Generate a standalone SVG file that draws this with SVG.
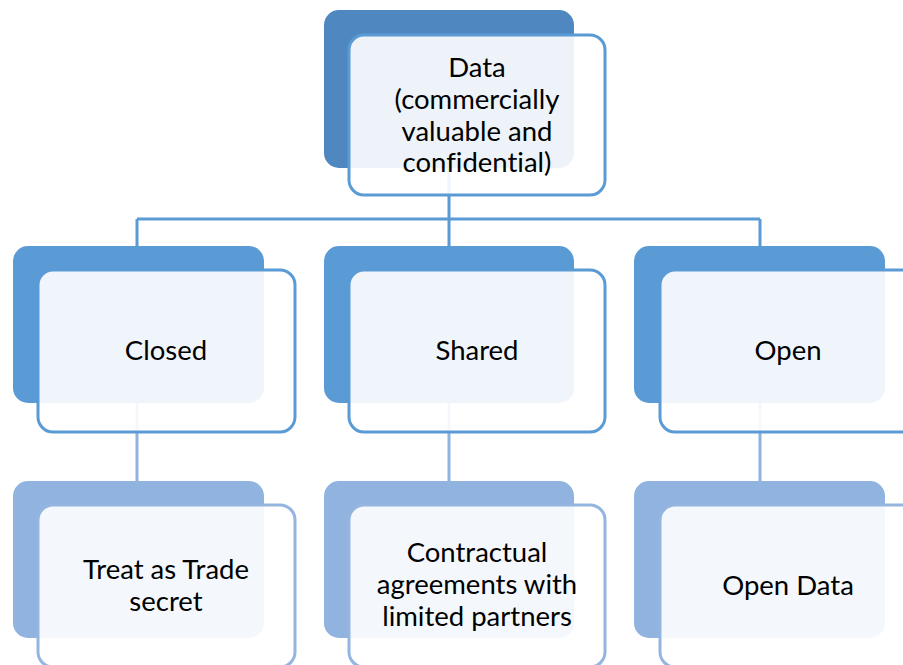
<svg xmlns="http://www.w3.org/2000/svg" width="903" height="665" viewBox="0 0 903 665">
<style>
.back1{fill:#4f88c0}
.back2{fill:#5b9bd5}
.back3{fill:#91b3df}
.front{fill:#ffffff;fill-opacity:0.9;stroke:#5b9bd5;stroke-width:3}
.front3{fill:#ffffff;fill-opacity:0.9;stroke:#93b5df;stroke-width:3}
.c1{stroke:#5b9bd5;stroke-width:3;fill:none}
.c2{stroke:#91b3df;stroke-width:3;fill:none}
text{font-family:Lato,"Open Sans","Liberation Sans",sans-serif;font-size:27.5px;fill:#000;text-anchor:middle;font-variant-ligatures:none}
</style>
<rect width="903" height="665" fill="#ffffff"/>
<g id="connectors">
<path class="c1" d="M449 168V219M137 219H760M137 219V246M449 219V246M760 219V246"/>
<path class="c2" d="M137 403V481M449 403V481M760 403V481"/>
</g>
<g id="node-data">
<rect class="back1" x="324" y="10" width="250" height="158" rx="15"/>
<rect class="front" x="349" y="35" width="256" height="160" rx="15"/>
<text x="477" y="77">Data</text>
<text x="477" y="109">(commercially</text>
<text x="477" y="141">valuable and</text>
<text x="477" y="172">confidential)</text>
</g>
<g id="node-closed">
<rect class="back2" x="13" y="246" width="251" height="157" rx="15"/>
<rect class="front" x="38" y="270" width="257" height="162" rx="15"/>
<text x="166" y="360">Closed</text>
</g>
<g id="node-shared">
<rect class="back2" x="324" y="246" width="250" height="157" rx="15"/>
<rect class="front" x="349" y="270" width="256" height="162" rx="15"/>
<text x="477" y="360">Shared</text>
</g>
<g id="node-open">
<rect class="back2" x="634" y="246" width="251" height="157" rx="15"/>
<rect class="front" x="660" y="270" width="257" height="162" rx="15"/>
<text x="788" y="360">Open</text>
</g>
<g id="node-trade-secret">
<rect class="back3" x="13" y="481" width="251" height="157" rx="15"/>
<rect class="front3" x="38" y="505" width="257" height="162" rx="15"/>
<text x="166" y="579">Treat as Trade</text>
<text x="166" y="611">secret</text>
</g>
<g id="node-contractual">
<rect class="back3" x="324" y="481" width="250" height="157" rx="15"/>
<rect class="front3" x="349" y="505" width="256" height="162" rx="15"/>
<text x="477" y="562">Contractual</text>
<text x="477" y="594">agreements with</text>
<text x="477" y="626">limited partners</text>
</g>
<g id="node-open-data">
<rect class="back3" x="634" y="481" width="251" height="157" rx="15"/>
<rect class="front3" x="660" y="505" width="257" height="162" rx="15"/>
<text x="788" y="595">Open Data</text>
</g>
</svg>
